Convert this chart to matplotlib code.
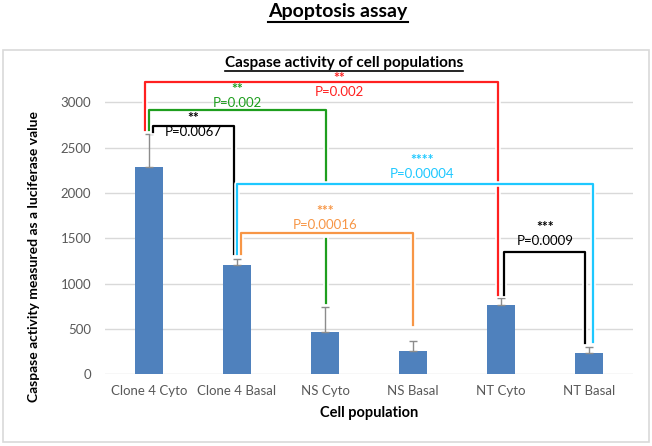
import matplotlib
matplotlib.use('Agg')
import matplotlib.pyplot as plt
import matplotlib.patheffects as pe
from matplotlib.lines import Line2D
from matplotlib.patches import Rectangle
import numpy as np

plt.rcParams['font.family'] = ['Lato', 'DejaVu Sans']

# data
populations = ['Clone 4 Cyto', 'Clone 4 Basal', 'NS Cyto', 'NS Basal', 'NT Cyto', 'NT Basal']
activity = [2290, 1205, 470, 257, 761, 231]
activity_err = [360, 66, 269, 107, 80, 70]

# significance brackets: (left idx, right idx, left offset, right offset,
#                         bar height, left leg end, right leg end, stars, p-text, color, text x, text y)
brackets = [
    (0, 4, -0.05, -0.03, 3223, 2694, 874, '**', 'P=0.002', '#FF2020', 2.16, 3116),
    (0, 2, 0.0, 0.01, 2914, 2694, 786, '**', 'P=0.002', '#1E9E1E', 1.0, 2995),
    (0, 1, 0.05, -0.035, 2741, 2675, 1324, '**', 'P=0.0067', '#000000', 0.5, 2675),
    (1, 5, 0.0, 0.04, 2098, 1324, 360, '****', 'P=0.00004', '#1EC8FF', 3.1, 2208),
    (1, 3, 0.045, 0.0, 1561, 1324, 543, '***', 'P=0.00016', '#F79646', 2.0, 1646),
    (4, 5, 0.03, -0.045, 1352, 874, 348, '***', 'P=0.0009', '#000000', 4.5, 1473),
]
# the green right leg is interrupted behind the orange label
green_gap = (1495, 2130)

W, H = 652, 446
fig = plt.figure(figsize=(W / 100, H / 100), dpi=100)

# chart frame
fig.patches.append(Rectangle((3 / W, 1 - 442 / H), 646 / W, 392 / H, transform=fig.transFigure,
                             fill=False, edgecolor='#D9D9D9', linewidth=1.2))

ax = fig.add_axes([105 / W, 1 - 374.3 / H, 528 / W, 3400 * 0.0907 / H])
x = np.arange(len(populations))
ax.bar(x, activity, width=0.31, color='#4F81BD', zorder=2)
ax.errorbar(x, activity, yerr=[np.zeros(len(activity)), activity_err], fmt='none',
            ecolor='#8C8C8C', elinewidth=1, capsize=3, capthick=1, zorder=3)

ax.set_xlim(-0.5, len(populations) - 0.5)
ax.set_ylim(0, 3400)
ax.set_yticks(np.arange(0, 3001, 500))
ax.set_yticklabels([str(v) for v in range(0, 3001, 500)])
ax.set_xticks(x)
ax.set_xticklabels(populations)
ax.tick_params(length=0, labelsize=9.5, labelcolor='#595959')
ax.tick_params(axis='y', pad=10)
ax.tick_params(axis='x', pad=8)
for s in ax.spines.values():
    s.set_visible(False)
# gridlines only up to 3000
for v in range(0, 3001, 500):
    ax.axhline(v, color='#D9D9D9', linewidth=1, zorder=1)

for li, ri, lo, ro, top, lend, rend, stars, ptxt, col, tx, ty in brackets:
    xl, xr = li + lo, ri + ro
    if col == '#1E9E1E':
        segs = [([xl, xl, xr, xr], [lend, top, top, green_gap[1]]),
                ([xr, xr], [green_gap[0], rend])]
    else:
        segs = [([xl, xl, xr, xr], [lend, top, top, rend])]
    for sx, sy in segs:
        line = Line2D(sx, sy, color=col, linewidth=1.6, zorder=4, clip_on=False)
        line.set_path_effects([pe.Stroke(linewidth=4, foreground='white'), pe.Normal()])
        ax.add_line(line)
    ax.text(tx, ty, ptxt, color=col, fontsize=9.5, ha='center', va='center', zorder=6)
    ax.text(tx, ty + 150, stars, color=col, fontsize=10, ha='center', va='center',
            fontweight='bold', zorder=6)

title = fig.text(338 / W, 1 - 12 / H, 'Apoptosis assay', ha='center', va='center',
                 fontsize=14, fontweight='bold', color='#000000')
subtitle = fig.text(344 / W, 1 - 63 / H, 'Caspase activity of cell populations', ha='center',
                    va='center', fontsize=11, fontweight='bold', color='#000000')
fig.text(369 / W, 1 - 413 / H, 'Cell population', ha='center', va='center',
         fontsize=10.5, fontweight='bold')
fig.text(34 / W, 1 - 257 / H, 'Caspase activity measured as a luciferase value', ha='center',
         va='center', rotation=90, fontsize=10, fontweight='bold')

# underline the two titles
fig.canvas.draw()
renderer = fig.canvas.get_renderer()
for t, lw in [(title, 1.5), (subtitle, 1.2)]:
    bb = t.get_window_extent(renderer)
    y0 = bb.y0 - 1
    fig.lines.append(Line2D([bb.x0 / W, bb.x1 / W], [y0 / H, y0 / H], transform=fig.transFigure,
                            color='black', linewidth=lw))

fig.savefig('out.png', dpi=100)
